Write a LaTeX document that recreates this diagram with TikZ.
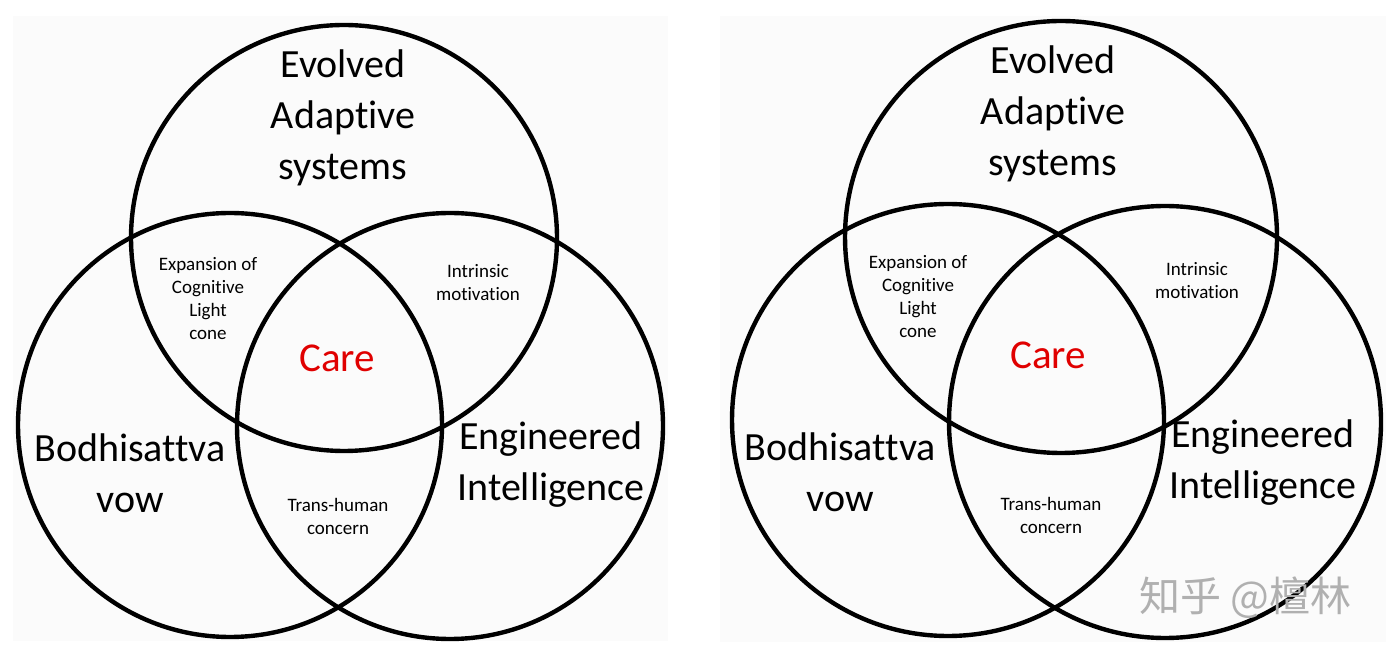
\documentclass[tikz,border=0pt]{standalone}
\usepackage{fontspec}
\setmainfont{Carlito}[Ligatures={NoCommon,NoRequired,NoContextual}]
\newfontfamily\cjkwm{Noto Sans CJK SC}
\definecolor{panelbg}{HTML}{FBFBFB}
\definecolor{carered}{HTML}{E00000}
\definecolor{wmgray}{HTML}{B0B0B0}
\tikzset{
  venn/.style={circle, draw=black, line width=2.2pt, inner sep=0pt, minimum size=#1},
  bigtxt/.style={align=center, font=\fontsize{20}{25.5}\selectfont, inner sep=0pt},
  smalltxt/.style={align=center, font=\fontsize{9.5}{11.5}\selectfont, inner sep=0pt},
  caretxt/.style={font=\fontsize{20.5}{24}\selectfont, text=carered, inner sep=0pt},
  panel/.style={fill=panelbg, draw=none}
}
\begin{document}
\begin{tikzpicture}[x=0.5pt, y=-0.5pt]
\useasboundingbox (0,0) rectangle (1390,656);
\fill[white] (0,0) rectangle (1390,656);
\path[panel] (13,16) rectangle (668,641);
\path[panel] (720,16) rectangle (1386,642);
% left panel
\node[venn=213pt] (LT) at (344,238) {};
\node[venn=212pt] (LL) at (230,425) {};
\node[venn=213pt] (LR) at (450,426) {};
\node[bigtxt] (LTt) at (343,118) {Evolved\\Adaptive\\systems};
\node[bigtxt] (LLt) at (130,473) {Bodhisattva\\vow};
\node[bigtxt] (LRt) at (551,465) {Engineered\\Intelligence};
\node[caretxt] (LC) at (337,358) {Care};
\node[smalltxt] (LTL) at (208,299) {Expansion of\\Cognitive\\Light\\cone};
\node[smalltxt] (LTR) at (478,283) {Intrinsic\\motivation};
\node[smalltxt] (LLR) at (338,516) {Trans-human\\concern};
% right panel
\node[venn=216pt] (RT) at (1061,237) {};
\node[venn=216pt] (RL) at (948,420) {};
\node[venn=216pt] (RR) at (1165,422) {};
\node[bigtxt] (RTt) at (1053,114) {Evolved\\Adaptive\\systems};
\node[bigtxt] (RLt) at (840,472) {Bodhisattva\\vow};
\node[bigtxt] (RRt) at (1263,463) {Engineered\\Intelligence};
\node[caretxt] (RC) at (1048,355) {Care};
\node[smalltxt] (RTL) at (918,297) {Expansion of\\Cognitive\\Light\\cone};
\node[smalltxt] (RTR) at (1197,281) {Intrinsic\\motivation};
\node[smalltxt] (RLR) at (1051,515) {Trans-human\\concern};
\node[text=wmgray, font=\cjkwm\fontsize{20.5}{22}\selectfont, inner sep=0pt] (WM) at (1245,598) {知乎 @檀林};
\end{tikzpicture}
\end{document}
